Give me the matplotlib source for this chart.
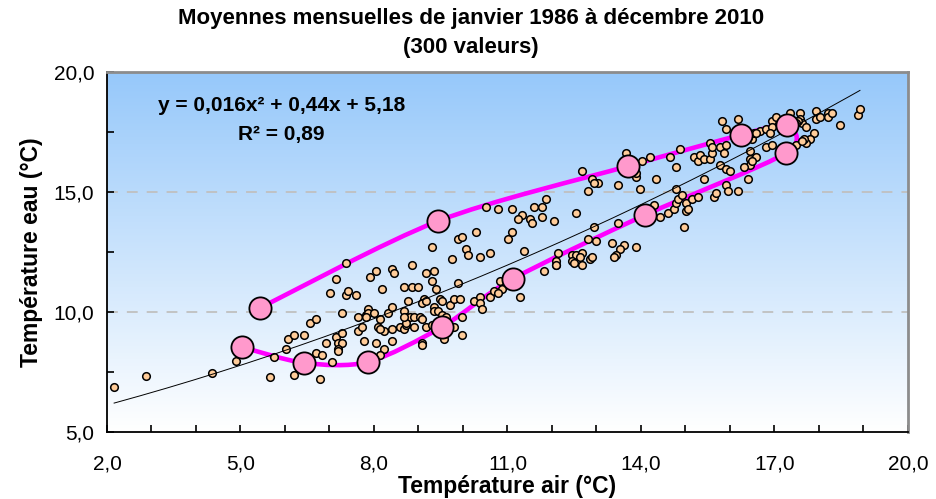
import numpy as np
import matplotlib
matplotlib.use("Agg")
import matplotlib.pyplot as plt
from matplotlib.path import Path
from matplotlib.patches import PathPatch
from matplotlib.ticker import FixedLocator, MultipleLocator, FuncFormatter

plt.rcParams['font.family'] = ['Liberation Sans', 'DejaVu Sans']

# Monthly values 1986-2010: air temperature / water temperature (°C)
air = [2.16, 2.88, 4.37, 4.90, 5.75, 5.66, 6.20, 6.02, 6.07, 6.20, 6.43, 6.56, 6.70, 6.70, 6.83,
       6.79, 6.92, 7.06, 7.01, 7.15, 7.37, 7.37, 7.42, 7.60, 7.28, 7.15, 7.28, 7.19, 7.28, 7.19,
       7.19, 7.64, 7.64, 7.73, 7.78, 7.82, 7.87, 7.91,
       9.30, 9.89, 9.98, 10.29, 11.01, 11.10, 10.07, 10.11, 10.38, 10.61, 9.75, 11.37, 8.85, 8.40,
       8.45, 8.04, 9.17, 9.35, 9.30, 9.39, 9.89, 8.18, 8.67, 8.85, 8.99, 8.76, 9.12, 9.08, 9.17,
       9.48, 9.53, 9.71, 9.80, 9.93, 10.25, 10.38, 10.38, 10.43, 10.61, 10.70, 10.83, 10.88, 10.79,
       11.28, 11.82, 12.09, 12.13, 7.87, 8.00, 7.82, 8.13, 8.31, 8.40, 8.67, 8.72, 8.81, 8.90, 9.03,
       9.08, 9.35, 9.35, 9.44, 9.53, 9.62, 9.98, 8.09, 8.22, 8.40, 8.58, 8.67, 8.72, 8.90, 9.17,
       9.30, 9.80, 8.04, 8.40, 9.57, 9.98, 9.08, 9.08, 8.22, 8.13, 8.13, 8.72, 8.67,
       10.52, 10.79, 11.10, 11.33, 11.24, 11.51, 11.55, 11.60, 11.78, 11.87, 11.78, 12.04,
       12.67, 12.90, 13.03, 12.94, 12.81, 13.48, 13.66, 14.02, 14.20, 14.65, 14.79, 13.89, 13.98,
       14.34, 12.54, 13.48, 14.29, 14.43, 14.61, 14.74, 14.79, 12.94, 12.81, 12.99, 13.35, 13.62,
       13.53, 13.44, 13.39, 13.89, 12.45, 12.54, 12.67, 12.85, 12.90,
       13.89, 14.88, 15.19, 15.28, 15.33, 15.42, 15.55, 15.60, 15.55, 15.60, 15.78, 15.87, 15.91,
       15.78, 15.91, 16.00, 15.42, 14.79, 14.83, 14.92, 15.01, 15.01, 15.06, 15.15, 15.28, 14.97,
       15.64, 15.69, 15.91, 15.96, 16.18, 12.09, 12.09, 12.45, 12.49, 12.63, 12.67,
       15.82, 16.18, 15.91, 16.49, 16.54, 16.67, 16.81, 16.94, 17.03, 16.94, 16.90, 17.35, 17.57,
       17.57, 17.62, 17.71, 17.53, 17.93, 17.93, 18.02, 18.20, 18.20, 18.29, 18.47, 18.88, 18.92,
       17.89, 17.80, 17.71, 17.66, 17.48, 16.81, 16.94, 16.45, 16.45, 16.58, 16.45, 16.31, 16.40,
       16.49, 17.48, 16.58, 16.40, 17.62]
eau = [6.86, 7.35, 7.45, 7.95, 8.11, 7.28, 7.36, 8.45, 8.86, 9.03, 9.03, 9.53, 9.70, 8.28, 8.20,
       7.20, 8.70, 7.93, 10.78, 11.36, 12.03, 10.70, 10.86, 10.70, 9.95, 8.95, 9.11, 8.70, 8.70, 8.45,
       8.36, 9.78, 9.20, 9.36, 8.78, 9.86, 10.11, 11.45,
       12.69, 13.03, 13.11, 13.35, 13.03, 13.35, 12.61, 12.36, 12.28, 12.45, 12.20, 12.53, 11.95, 11.78,
       11.61, 11.70, 11.61, 11.70, 11.28, 10.95, 11.20, 10.95, 11.03, 11.03, 11.03, 10.45, 10.53, 10.36, 10.45,
       10.53, 10.45, 10.28, 10.53, 10.53, 10.45, 10.61, 10.36, 10.11, 10.61, 10.86, 11.28, 10.95, 10.78,
       10.61, 11.70, 11.95, 12.45, 9.95, 9.95, 9.78, 9.70, 9.95, 10.20, 10.03, 9.78, 9.78, 9.78, 9.78,
       9.70, 10.20, 10.03, 10.03, 9.86, 9.78, 9.78, 9.36, 9.20, 9.28, 9.36, 9.28, 9.45, 9.36, 9.36,
       9.45, 9.36, 8.70, 8.78, 8.86, 9.03, 8.70, 8.61, 8.45, 8.20, 9.28, 9.53, 9.78,
       14.36, 14.28, 14.28, 14.03, 13.86, 13.86, 13.70, 14.36, 14.36, 14.70, 13.95, 13.78,
       15.86, 15.53, 15.36, 15.36, 15.03, 15.28, 16.61, 16.28, 16.45, 16.45, 16.03, 15.61, 15.11,
       15.53, 14.11, 13.70, 14.45, 13.95, 14.11, 14.28, 15.11, 13.53, 13.03, 12.95, 12.86, 12.78,
       12.61, 12.36, 12.28, 12.70, 12.36, 12.36, 12.45, 12.20, 12.28,
       15.78, 16.78, 16.45, 16.28, 16.53, 16.36, 16.36, 16.61, 17.03, 16.86, 16.86, 16.61, 16.95,
       16.11, 15.95, 15.86, 15.53, 14.53, 14.70, 14.86, 14.53, 14.20, 14.28, 14.70, 14.78, 13.53,
       14.78, 14.95, 15.28, 15.03, 15.03, 12.11, 11.95, 12.11, 12.03, 12.28, 11.95,
       17.95, 18.03, 17.61, 17.20, 17.45, 17.53, 17.61, 17.95, 18.11, 17.70, 17.45, 18.28, 18.28,
       18.03, 17.86, 17.70, 17.95, 18.36, 18.03, 18.11, 18.28, 18.11, 18.28, 17.78, 18.20, 18.45,
       17.45, 17.20, 17.03, 17.20, 16.95, 16.86, 16.95, 16.70, 16.36, 16.45, 16.11, 16.03, 15.53,
       16.28, 17.86, 17.45, 17.28, 17.11]

# Average seasonal cycle (12 monthly means)
cycle_air = [5.03, 6.43, 7.87, 9.53, 11.12, 14.09, 17.26, 17.27, 16.25, 13.71, 9.44, 5.44]
cycle_eau = [8.54, 7.88, 7.92, 9.38, 11.38, 14.04, 16.63, 17.79, 17.38, 16.08, 13.79, 10.17]

# Quadratic trend y = a x^2 + b x + c
a, b, c = 0.016, 0.44, 5.18
r2 = 0.89

x_ticks = [2, 5, 8, 11, 14, 17, 20]
y_ticks = [5, 10, 15, 20]

fig = plt.figure(figsize=(9.37, 4.99), dpi=100)
ax = fig.add_axes([107/937, 67/499, 801/937, 360/499])
ax.set_xlim(2, 20)
ax.set_ylim(5, 20)

# blue-to-white background
grad = np.linspace(0, 1, 256).reshape(-1, 1)
top = np.array([150, 200, 250]) / 255
bot = np.array([255, 255, 255]) / 255
img = top[None, None, :] * (1 - grad[:, :, None]) + bot[None, None, :] * grad[:, :, None]
ax.imshow(img, extent=[2, 20, 5, 20], aspect='auto', zorder=0, origin='upper')

for yg in [10, 15]:
    ax.axhline(yg, color='#c0c0c0', lw=1.3, dashes=(6, 5), zorder=1)

# smoothed line through the monthly means (cubic Bezier segments)
P = np.column_stack([cycle_air, cycle_eau])
verts = [P[0]]
codes = [Path.MOVETO]
n = len(P)
k = 1 / 7
for i in range(n - 1):
    p0 = P[max(i - 1, 0)]
    p1, p2 = P[i], P[i + 1]
    p3 = P[min(i + 2, n - 1)]
    verts += [p1 + (p2 - p0) * k, p2 - (p3 - p1) * k, p2]
    codes += [Path.CURVE4] * 3
ax.add_patch(PathPatch(Path(verts, codes), fill=False, edgecolor='#ff00ff', lw=3.3, zorder=2))

ax.scatter(air, eau, s=30, c='#ffcc99', edgecolors='black', linewidths=1.1, zorder=3)

xt = np.linspace(min(air), max(air), 200)
ax.plot(xt, a * xt**2 + b * xt + c, color='black', lw=0.7, zorder=4)

ax.plot(cycle_air, cycle_eau, 'o', ms=16, mfc='#ff99cc', mec='black', mew=1.3, ls='none', zorder=5)

ax.text(0.218, 0.908, 'y = 0,016x² + 0,44x + 5,18', transform=ax.transAxes, ha='center', va='center',
        fontsize=15, fontweight='bold')
ax.text(0.218, 0.825, f"R² = {r2:.2f}".replace('.', ','), transform=ax.transAxes, ha='center',
        va='center', fontsize=15, fontweight='bold')

fmt = FuncFormatter(lambda v, p: f"{v:.1f}".replace('.', ','))
ax.xaxis.set_major_locator(FixedLocator(x_ticks))
ax.xaxis.set_minor_locator(MultipleLocator(1))
ax.yaxis.set_major_locator(FixedLocator(y_ticks))
ax.yaxis.set_minor_locator(MultipleLocator(2.5))
ax.xaxis.set_major_formatter(fmt)
ax.yaxis.set_major_formatter(fmt)
ax.tick_params(which='both', direction='in', length=5, width=1.2, labelsize=15)
ax.tick_params(axis='x', pad=16)
ax.tick_params(axis='y', pad=9)

for s in ['left', 'bottom']:
    ax.spines[s].set_color('black')
    ax.spines[s].set_linewidth(1.3)
for s in ['top', 'right']:
    ax.spines[s].set_color('#8c8c8c')
    ax.spines[s].set_linewidth(2)

ax.set_xlabel('Température air (°C)', fontsize=16.5, fontweight='bold', labelpad=1)
ax.set_ylabel('Température eau (°C)', fontsize=16.5, fontweight='bold', labelpad=8)

fig.text(0.503, 0.963, 'Moyennes mensuelles de janvier 1986 à décembre 2010', ha='center', va='center',
         fontsize=16, fontweight='bold')
fig.text(0.503, 0.905, '(300 valeurs)', ha='center', va='center', fontsize=16, fontweight='bold')

fig.savefig('out.png', dpi=100)
